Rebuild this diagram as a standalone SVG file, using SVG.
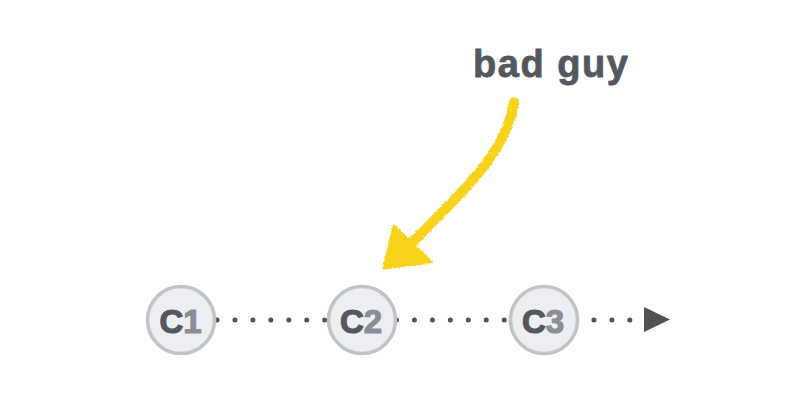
<svg xmlns="http://www.w3.org/2000/svg" width="796" height="420" viewBox="0 0 796 420">
  <defs>
    <style>
      .node circle { fill: #eceef1; stroke: #c0c4c7; stroke-width: 3.5; }
      .node text { font-family: "Liberation Sans", Arial, sans-serif; font-weight: bold; font-size: 33px; text-anchor: middle; stroke-width: 1.2; stroke-linejoin: round; }
      .dark { fill: #54585e; stroke: #54585e; }
      .light { fill: #8b8e92; stroke: #8b8e92; }
      .label { font-family: "Liberation Sans", Arial, sans-serif; font-weight: bold; font-size: 38px; fill: #54585e; stroke: #54585e; stroke-width: 0.8; stroke-linejoin: round; }
      .crayon { fill: #f8d31f; stroke: #f8d31f; }
    </style>
    <filter id="rough" x="-20%" y="-20%" width="140%" height="140%">
      <feTurbulence type="fractalNoise" baseFrequency="1.2" numOctaves="2" seed="3" result="n"/>
      <feDisplacementMap in="SourceGraphic" in2="n" scale="4" xChannelSelector="R" yChannelSelector="G"/>
    </filter>
  </defs>
  <rect width="796" height="420" fill="#ffffff"/>

  <g id="connectors">
    <line x1="217" y1="320" x2="632" y2="320" stroke="#4f5358" stroke-width="5" stroke-linecap="round" stroke-dasharray="0 17.95"/>
    <polygon points="644,307 670,319.5 644,332" fill="#4f5358"/>
  </g>

  <g id="c1" class="node">
    <circle cx="181" cy="320" r="33.5"/>
    <text x="180.5" y="333"><tspan class="dark">C</tspan><tspan class="light">1</tspan></text>
  </g>
  <g id="c2" class="node">
    <circle cx="362" cy="320" r="33.5"/>
    <text x="361" y="333"><tspan class="dark">C</tspan><tspan class="light">2</tspan></text>
  </g>
  <g id="c3" class="node">
    <circle cx="544" cy="320" r="33.5"/>
    <text x="543" y="333"><tspan class="dark">C</tspan><tspan class="light">3</tspan></text>
  </g>

  <g id="bad-guy">
    <text class="label" x="473" y="77" textLength="155" lengthAdjust="spacing">bad guy</text>
    <g filter="url(#rough)">
      <path d="M514,102 C506,150 476,178 412,243" fill="none" stroke="#f8d31f" stroke-width="10" stroke-linecap="round"/>
      <polygon class="crayon" points="394,226 431,262 384,268" stroke-width="3" stroke-linejoin="round"/>
    </g>
  </g>
</svg>
